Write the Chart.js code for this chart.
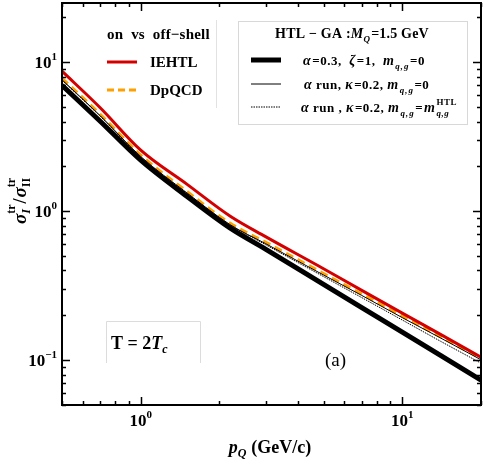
<!DOCTYPE html>
<html>
<head>
<meta charset="utf-8">
<script src="https://cdn.jsdelivr.net/npm/chart.js@4"></script>
<style>
  html, body { margin: 0; padding: 0; background: #fff; }
  #wrap { width: 485px; height: 463px; }
</style>
</head>
<body>
<div id="wrap"><canvas id="Chart" width="485" height="463"></canvas></div>
<script>
// momentum grid p_Q (GeV/c) and the ratio sigma_I / sigma_II
const pQ = [0.5, 0.7, 1, 1.5, 2.2, 3, 5, 7, 10, 14, 20];
const ieHTL = [8.71, 4.95, 2.57, 1.52, 0.925, 0.675, 0.411, 0.294, 0.207, 0.149, 0.1045];
const dpQCD = [7.81, 4.48, 2.38, 1.36, 0.830, 0.620, 0.382, 0.278, 0.198, 0.144, 0.103];
const htlFixed = [7.01, 4.02, 2.20, 1.26, 0.769, 0.557, 0.323, 0.2255, 0.154, 0.1076, 0.0735];
const htlRun = [7.63, 4.38, 2.33, 1.33, 0.811, 0.606, 0.373, 0.272, 0.193, 0.141, 0.1006];
const htlRunMass = [7.57, 4.34, 2.30, 1.32, 0.805, 0.596, 0.364, 0.263, 0.186, 0.134, 0.0955];

const xMajor = [1, 10];
const yMajor = [0.1, 1, 10];
const xRange = [0.5, 20];
const yRange = [0.05, 25];

const SERIF = '"Liberation Serif", "DejaVu Serif", serif';

function pts(ys) {
  return pQ.map((x, i) => ({ x: x, y: ys[i] }));
}

// draw a run of text pieces (font style, size, vertical shift)
function runsWidth(ctx, runs) {
  let w = 0;
  runs.forEach((r) => {
    ctx.font = (r.f || "bold") + " " + r.s + "px " + SERIF;
    let tw = ctx.measureText(r.t).width;
    if (r.stack) tw = Math.max(tw, ctx.measureText(r.stack).width);
    w += tw + (r.gap || 0);
  });
  return w;
}
function drawRuns(ctx, runs, x, y, align) {
  let cx = x;
  if (align === "center") cx = x - runsWidth(ctx, runs) / 2;
  if (align === "right") cx = x - runsWidth(ctx, runs);
  runs.forEach((r) => {
    ctx.font = (r.f || "bold") + " " + r.s + "px " + SERIF;
    ctx.fillText(r.t, cx, y + (r.dy || 0));
    let tw = ctx.measureText(r.t).width;
    if (r.stack) {
      // superscript stacked above a subscript
      if (r.stackF) ctx.font = r.stackF + " " + r.s + "px " + SERIF;
      ctx.fillText(r.stack, cx, y + r.stackDy);
      tw = Math.max(tw, ctx.measureText(r.stack).width);
    }
    cx += tw + (r.gap || 0);
  });
}

function logTicks(min, max) {
  const out = [];
  for (let e = -3; e <= 3; e++) {
    for (let m = 1; m <= 9; m++) {
      const v = m * Math.pow(10, e);
      if (v >= min * 0.999 && v <= max * 1.001) out.push({ v: v, major: m === 1 });
    }
  }
  return out;
}

const decor = {
  id: "decor",
  afterDatasetsDraw(chart) {
    const ctx = chart.ctx;
    const a = chart.chartArea;
    const xs = chart.scales.x;
    const ys = chart.scales.y;
    ctx.save();
    ctx.fillStyle = "#000";
    ctx.strokeStyle = "#000";

    // ticks on all four sides, pointing inward
    ctx.lineWidth = 1.5;
    logTicks(xRange[0], xRange[1]).forEach((t) => {
      const px = Math.round(xs.getPixelForValue(t.v)) + 0.5;
      const len = t.major ? 8 : 4;
      ctx.beginPath();
      ctx.moveTo(px, a.bottom); ctx.lineTo(px, a.bottom - len);
      ctx.moveTo(px, a.top); ctx.lineTo(px, a.top + len);
      ctx.stroke();
    });
    logTicks(yRange[0], yRange[1]).forEach((t) => {
      const py = Math.round(ys.getPixelForValue(t.v)) + 0.5;
      const len = t.major ? 8 : 4;
      ctx.beginPath();
      ctx.moveTo(a.left, py); ctx.lineTo(a.left + len, py);
      ctx.moveTo(a.right, py); ctx.lineTo(a.right - len, py);
      ctx.stroke();
    });

    // frame
    ctx.lineWidth = 2;
    ctx.strokeRect(a.left, a.top, a.right - a.left, a.bottom - a.top);

    // tick labels
    ctx.textBaseline = "alphabetic";
    xMajor.forEach((v) => {
      const px = xs.getPixelForValue(v);
      const e = Math.round(Math.log10(v));
      drawRuns(ctx, [{ t: "10", s: 17 }, { t: String(e), s: 11, dy: -8 }], px, 426, "center");
    });
    yMajor.forEach((v) => {
      const py = ys.getPixelForValue(v);
      const e = Math.round(Math.log10(v));
      const sup = e < 0 ? "\u2212" + Math.abs(e) : String(e);
      drawRuns(ctx, [{ t: "10", s: 17 }, { t: sup, s: 11, dy: -8 }], 57, py + 6, "right");
    });

    // axis titles
    drawRuns(ctx, [
      { t: "p", f: "bold italic", s: 18 },
      { t: "Q", f: "bold italic", s: 12, dy: 4, gap: 5 },
      { t: "(GeV/c)", s: 18 },
    ], 270, 453, "center");

    ctx.save();
    ctx.translate(26, 201);
    ctx.rotate(-Math.PI / 2);
    drawRuns(ctx, [
      { t: "\u03c3", f: "bold italic", s: 19 },
      { t: "tr", s: 12, dy: -11, stack: "I", stackDy: 4, stackF: "bold italic", gap: 1 },
      { t: "/", s: 18, gap: 1 },
      { t: "\u03c3", f: "bold italic", s: 19 },
      { t: "tr", s: 12, dy: -11, stack: "II", stackDy: 4 },
    ], 0, 0, "center");
    ctx.restore();

    // first legend
    ctx.strokeStyle = "#e2e2e2";
    ctx.lineWidth = 1;
    ctx.beginPath();
    ctx.moveTo(216.5, 20); ctx.lineTo(216.5, 108);
    ctx.stroke();
    ctx.fillStyle = "#000";
    ctx.letterSpacing = "0.2px";
    drawRuns(ctx, [{ t: "on  vs  off\u2212shell", s: 15 }], 107, 39, "left");
    ctx.letterSpacing = "0px";
    ctx.lineWidth = 3;
    ctx.strokeStyle = "#d40000";
    ctx.beginPath(); ctx.moveTo(107, 62); ctx.lineTo(137, 62); ctx.stroke();
    ctx.strokeStyle = "#ffa000";
    ctx.setLineDash([7, 4]);
    ctx.beginPath(); ctx.moveTo(107, 90); ctx.lineTo(138, 90); ctx.stroke();
    ctx.setLineDash([]);
    drawRuns(ctx, [{ t: "IEHTL", s: 15 }], 150, 67, "left");
    drawRuns(ctx, [{ t: "DpQCD", s: 15 }], 150, 95, "left");

    // second legend
    ctx.strokeStyle = "#d8d8d8";
    ctx.lineWidth = 1;
    ctx.fillStyle = "#fff";
    ctx.fillRect(238.5, 21.5, 229, 103);
    ctx.strokeRect(238.5, 21.5, 229, 103);
    ctx.fillStyle = "#000";
    ctx.letterSpacing = "0.2px";
    drawRuns(ctx, [
      { t: "HTL \u2212 GA :", s: 14 },
      { t: "M", f: "bold italic", s: 14 },
      { t: "Q", f: "bold italic", s: 9, dy: 4, gap: 1 },
      { t: "=1.5 GeV", s: 14 },
    ], 352, 38, "center");

    ctx.letterSpacing = "0px";
    ctx.strokeStyle = "#000";
    ctx.lineWidth = 5;
    ctx.beginPath(); ctx.moveTo(251, 60); ctx.lineTo(281, 60); ctx.stroke();
    ctx.lineWidth = 1;
    ctx.beginPath(); ctx.moveTo(251, 84); ctx.lineTo(281, 84); ctx.stroke();
    ctx.setLineDash([1.5, 1]);
    ctx.beginPath(); ctx.moveTo(251, 107); ctx.lineTo(281, 107); ctx.stroke();
    ctx.setLineDash([]);

    ctx.letterSpacing = "0.5px";
    const mqg = [
      { t: "m", f: "bold italic", s: 14, gap: 1 },
      { t: "q", f: "bold italic", s: 9, dy: 4 },
      { t: ",", s: 9, dy: 4, gap: 1 },
      { t: "g", f: "bold italic", s: 9, dy: 4, gap: 1 },
    ];
    drawRuns(ctx, [
      { t: "\u03b1", f: "bold italic", s: 14, gap: 1 },
      { t: "=0.3,  ", s: 13 },
      { t: "\u03b6", f: "bold italic", s: 14, gap: 1 },
      { t: "=1,  ", s: 13 },
    ].concat(mqg, [{ t: "=0", s: 13 }]), 303, 65, "left");
    drawRuns(ctx, [
      { t: "\u03b1", f: "bold italic", s: 14 },
      { t: " run, ", s: 13 },
      { t: "\u03ba", f: "bold italic", s: 14, gap: 1 },
      { t: "=0.2, ", s: 13 },
    ].concat(mqg, [{ t: "=0", s: 13 }]), 304, 89, "left");
    drawRuns(ctx, [
      { t: "\u03b1", f: "bold italic", s: 14 },
      { t: " run , ", s: 13 },
      { t: "\u03ba", f: "bold italic", s: 14, gap: 1 },
      { t: "=0.2, ", s: 13 },
    ].concat(mqg, [
      { t: "=", s: 13, gap: 1 },
      { t: "m", f: "bold italic", s: 14, gap: 1 },
      { t: "q,g", f: "bold italic", s: 9, dy: 4, stack: "HTL", stackF: "bold", stackDy: -7 },
    ]), 301, 112, "left");
    ctx.letterSpacing = "0px";

    // temperature box and panel label
    ctx.strokeStyle = "#dcdcdc";
    ctx.lineWidth = 1;
    ctx.beginPath();
    ctx.moveTo(106.5, 363); ctx.lineTo(106.5, 321.5); ctx.lineTo(200.5, 321.5); ctx.lineTo(200.5, 363);
    ctx.stroke();
    drawRuns(ctx, [
      { t: "T = 2", s: 18 },
      { t: "T", f: "bold italic", s: 18 },
      { t: "c", f: "bold italic", s: 12, dy: 4 },
    ], 111, 349, "left");
    drawRuns(ctx, [{ t: "(a)", f: "normal", s: 19 }], 325, 366, "left");

    ctx.restore();
  },
};

Chart.register(decor);

new Chart(document.getElementById("Chart"), {
  type: "line",
  data: {
    datasets: [
      { label: "alpha=0.3", data: pts(htlFixed), borderColor: "#000", borderWidth: 5 },
      { label: "alpha run m=0", data: pts(htlRun), borderColor: "#000", borderWidth: 1 },
      { label: "alpha run m=HTL", data: pts(htlRunMass), borderColor: "#000", borderWidth: 1, borderDash: [1.5, 1] },
      { label: "IEHTL", data: pts(ieHTL), borderColor: "#d40000", borderWidth: 3 },
      { label: "DpQCD", data: pts(dpQCD), borderColor: "#ffa000", borderWidth: 3, borderDash: [8, 5] },
    ],
  },
  options: {
    responsive: false,
    animation: false,
    layout: { padding: { left: 62, right: 4, top: 3, bottom: 58 } },
    elements: {
      point: { radius: 0 },
      line: { cubicInterpolationMode: "monotone", fill: false },
    },
    plugins: {
      legend: { display: false },
      tooltip: { enabled: false },
    },
    scales: {
      x: { type: "logarithmic", min: xRange[0], max: xRange[1], display: false },
      y: { type: "logarithmic", min: yRange[0], max: yRange[1], display: false },
    },
  },
});
</script>
</body>
</html>
